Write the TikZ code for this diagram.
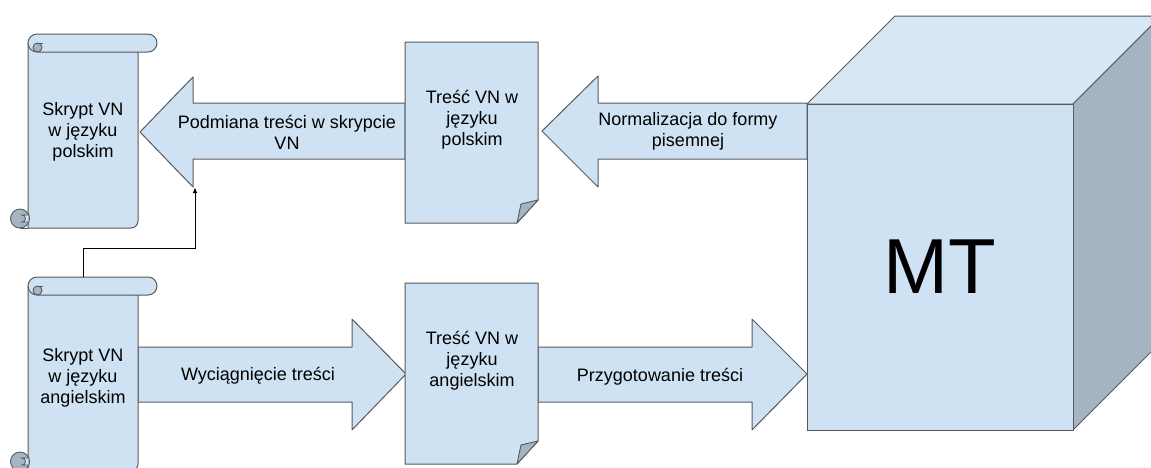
\documentclass[tikz,border=0pt]{standalone}
\usepackage{fontspec}
\setmainfont{Liberation Sans}
\usetikzlibrary{arrows.meta}
\definecolor{fillblue}{HTML}{CFE2F3}
\definecolor{darkfill}{HTML}{A5B4C3}
\definecolor{topfill}{HTML}{D8E7F5}
\definecolor{edge}{HTML}{595959}
\begin{document}
\begin{tikzpicture}[x=1pt,y=-1pt,
  shp/.style={draw=edge, fill=fillblue, line width=1pt, line join=round},
  curl/.style={draw=edge, fill=darkfill, line width=0.9pt, line join=round},
  lbl/.style={font=\fontsize{18}{21}\selectfont, align=center, inner sep=0pt, text=black},
  scrollpic/.pic={
    \path[shp] (0,9) -- (0,194) -- (103,194) arc[start angle=90,end angle=0,radius=7] -- (110,18) -- cycle;
    \path[shp] (9,0) -- (120,0) arc[start angle=-90,end angle=90,radius=9] -- (9,18) arc[start angle=90,end angle=270,radius=9] -- cycle;
    \path[curl] (9.5,13.5) circle[radius=4.5];
    \draw[edge, line width=0.9pt] (9.5,9) -- (15,9);
    \path[curl] (-8,184.5) circle[radius=9.5];
    \path[draw=edge, fill=fillblue, line width=0.8pt] (-6,181) arc[start angle=-90,end angle=90,radius=3.5] -- (1,188) -- (1,181) -- cycle;
    \draw[edge, line width=1pt] (-8,194) -- (0,194);
  },
  docpic/.pic={
    \path[shp] (0,0) -- (133,0) -- (133,158) -- (112,181) -- (0,181) -- cycle;
    \path[curl] (133,158) -- (112,181) -- (116,162) -- cycle;
  }]
\useasboundingbox (0,0) rectangle (1151,467);
\clip (0,0) rectangle (1151,467);

% block arrows
\path[shp] (140,132) -- (193,77) -- (193,103) -- (405,103) -- (405,159) -- (193,159) -- (193,187) -- cycle;
\path[shp] (542,131) -- (598,76) -- (598,103) -- (807,103) -- (807,159) -- (598,159) -- (598,187) -- cycle;
\path[shp] (138,347) -- (352,347) -- (352,319) -- (406,374) -- (352,430) -- (352,402) -- (138,402) -- cycle;
\path[shp] (538,347) -- (752,347) -- (752,319) -- (807,374) -- (752,430) -- (752,402) -- (538,402) -- cycle;

% scrolls
\pic at (28,34) {scrollpic};
\pic at (28,277) {scrollpic};

% documents
\pic at (405,42) {docpic};
\pic at (405,283) {docpic};

% cube
\path[shp, fill=topfill] (807,104) -- (895,16) -- (1161,16) -- (1073,104) -- cycle;
\path[shp, fill=darkfill] (1073,104) -- (1161,16) -- (1161,342) -- (1073,430) -- cycle;
\path[shp] (807,104) rectangle (1073,430);

% labels
\node[lbl] (skpl) at (83,132) {Skrypt VN\\w języku\\polskim};
\node[lbl] (sken) at (83,378) {Skrypt VN\\w języku\\angielskim};
\node[lbl] (trpl) at (472,120) {Treść VN w\\języku\\polskim};
\node[lbl] (tren) at (472,361) {Treść VN w\\języku\\angielskim};
\node[lbl] (podm) at (287,132) {Podmiana treści w skrypcie\\VN};
\node[lbl] (norm) at (688,131) {Normalizacja do formy\\pisemnej};
\node[lbl] (wyci) at (258,376) {Wyciągnięcie treści};
\node[lbl] (przy) at (660,376.5) {Przygotowanie treści};
\node[lbl, font=\fontsize{78}{80}\selectfont] (mt) at (940,267) {MT};

% connector
\coordinate (scrollTop) at (83,277);
\coordinate (headCorner) at (195,188);
\draw[black, line width=0.8pt, -{Triangle[length=5pt,width=4pt]}] (scrollTop) -- ++(0,-29) -| (headCorner);
\end{tikzpicture}
\end{document}
